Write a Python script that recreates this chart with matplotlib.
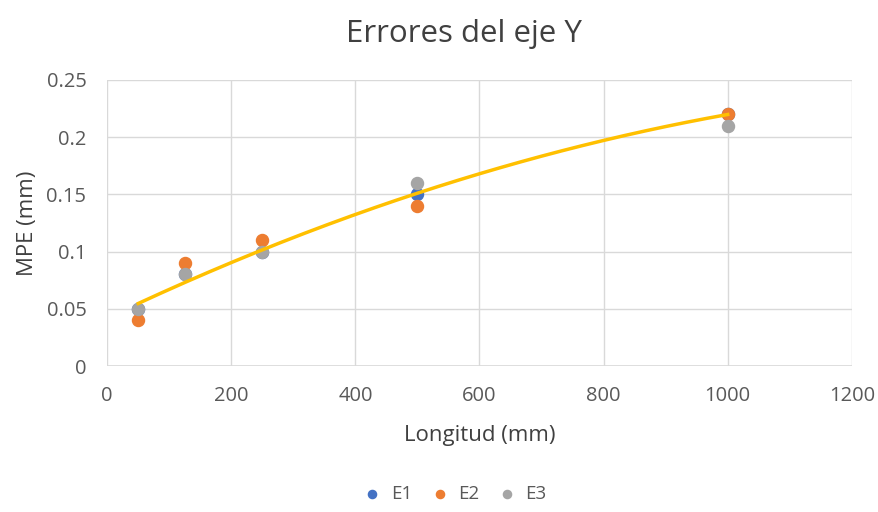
import numpy as np
import matplotlib.pyplot as plt

plt.rcParams['font.family'] = ['Open Sans', 'DejaVu Sans']

longitud = [50, 125, 250, 500, 1000]
e1 = [0.05, 0.08, 0.10, 0.15, 0.22]
e2 = [0.04, 0.09, 0.11, 0.14, 0.22]
e3 = [0.05, 0.08, 0.10, 0.16, 0.21]

fig = plt.figure(figsize=(8.79, 5.12), dpi=100)
ax = fig.add_axes([0.122, 0.285, 0.847, 0.559])

ax.scatter(longitud, e1, s=75, color='#4472C4', label='E1', zorder=3)
ax.scatter(longitud, e2, s=75, color='#ED7D31', label='E2', zorder=3)
ax.scatter(longitud, e3, s=75, color='#A5A5A5', label='E3', zorder=3)

# polynomial trendline (order 2) on E1
coef = np.polyfit(longitud, e1, 2)
xt = np.linspace(min(longitud), max(longitud), 200)
ax.plot(xt, np.polyval(coef, xt), color='#FFC000', lw=2.5, zorder=4)

ax.set_xlim(0, 1200)
ax.set_ylim(0, 0.25)
ax.set_xticks(range(0, 1201, 200))
ax.set_yticks([0, 0.05, 0.1, 0.15, 0.2, 0.25])
ax.set_yticklabels(['0', '0.05', '0.1', '0.15', '0.2', '0.25'])
ax.grid(True, color='#D9D9D9', lw=1)
ax.set_axisbelow(True)
for s in ax.spines.values():
    s.set_visible(False)
ax.axhline(0, color='#D9D9D9', lw=1.2, zorder=1)
ax.tick_params(axis='y', length=0, labelsize=14.5, colors='#595959', pad=15)
ax.tick_params(axis='x', length=0, labelsize=14.5, colors='#595959', pad=14)

ax.set_xlabel('Longitud (mm)', fontsize=16, color='#404040', labelpad=14)
ax.set_ylabel('MPE (mm)', fontsize=16, color='#404040', labelpad=6)
fig.suptitle('Errores del eje Y', fontsize=22.5, color='#404040',
             x=0.528, y=0.962)

fig.legend(loc='lower center', ncol=3, frameon=False, fontsize=13.5,
           handletextpad=0.0, columnspacing=0.45, markerscale=0.68,
           bbox_to_anchor=(0.512, -0.016), labelcolor='#595959')

fig.savefig('out.png', dpi=100)
